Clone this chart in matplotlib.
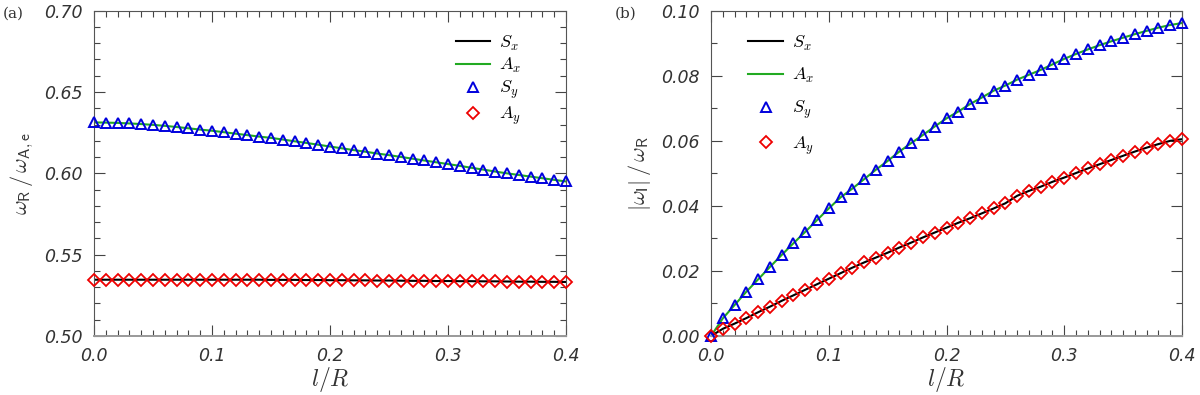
import numpy as np
import matplotlib
matplotlib.use("Agg")
import matplotlib.pyplot as plt
from matplotlib.lines import Line2D
from matplotlib.ticker import MultipleLocator, FormatStrFormatter

plt.rcParams['mathtext.fontset'] = 'cm'

# l/R sampling (41 points)
lR = np.linspace(0.0, 0.4, 41)

# panel (a): omega_R / omega_Ae
wr_kink = [0.6313, 0.6312, 0.6310, 0.6307, 0.6303, 0.6298, 0.6292, 0.6285, 0.6277, 0.6269,
           0.6262, 0.6253, 0.6244, 0.6235, 0.6226, 0.6218, 0.6208, 0.6197, 0.6187, 0.6176,
           0.6165, 0.6154, 0.6143, 0.6133, 0.6122, 0.6112, 0.6101, 0.6090, 0.6079, 0.6068,
           0.6057, 0.6046, 0.6034, 0.6023, 0.6011, 0.6000, 0.5990, 0.5980, 0.5970, 0.5960,
           0.5950]
wr_saus = [0.5346, 0.5346, 0.5346, 0.5346, 0.5346, 0.5346, 0.5346, 0.5346, 0.5346, 0.5346,
           0.5346, 0.5346, 0.5346, 0.5346, 0.5346, 0.5345, 0.5345, 0.5345, 0.5344, 0.5344,
           0.5343, 0.5343, 0.5342, 0.5342, 0.5341, 0.5341, 0.5340, 0.5339, 0.5339, 0.5338,
           0.5338, 0.5337, 0.5337, 0.5336, 0.5336, 0.5335, 0.5334, 0.5334, 0.5333, 0.5333,
           0.5332]

# panel (b): |omega_I| / omega_R
wi_kink = [0.0000, 0.0054, 0.0095, 0.0136, 0.0174, 0.0212, 0.0249, 0.0285, 0.0320, 0.0356,
           0.0392, 0.0426, 0.0453, 0.0482, 0.0511, 0.0538, 0.0567, 0.0593, 0.0618, 0.0644,
           0.0669, 0.0690, 0.0713, 0.0733, 0.0754, 0.0770, 0.0788, 0.0803, 0.0818, 0.0835,
           0.0852, 0.0867, 0.0881, 0.0894, 0.0906, 0.0917, 0.0928, 0.0938, 0.0948, 0.0956,
           0.0962]
wi_saus = [0.0000, 0.0022, 0.0038, 0.0055, 0.0073, 0.0090, 0.0108, 0.0125, 0.0142, 0.0159,
           0.0176, 0.0193, 0.0210, 0.0226, 0.0241, 0.0256, 0.0272, 0.0287, 0.0303, 0.0318,
           0.0333, 0.0348, 0.0362, 0.0377, 0.0392, 0.0408, 0.0431, 0.0446, 0.0459, 0.0474,
           0.0487, 0.0501, 0.0515, 0.0528, 0.0541, 0.0554, 0.0567, 0.0579, 0.0590, 0.0600,
           0.0605]

legend_labels = [r'$S_x$', r'$A_x$', r'$S_y$', r'$A_y$']

fig = plt.figure(figsize=(12, 3.95), dpi=100)
ax1 = fig.add_axes([0.0783, 0.1494, 0.3933, 0.8235])
ax2 = fig.add_axes([0.5925, 0.1494, 0.3925, 0.8235])

tri = dict(marker='^', ms=7.5, mfc='none', mec='#0000dd', mew=1.4)
dia = dict(marker='D', ms=6.3, mfc='none', mec='#ee0000', mew=1.3)


def draw(ax, y_line_green, y_line_black):
    ax.plot(lR, y_line_green, color='#22aa22', lw=1.5, zorder=2)
    ax.plot(lR, y_line_black, color='black', lw=1.5, zorder=2)
    ax.plot(lR, y_line_green, ls='none', clip_on=False, zorder=3, **tri)
    ax.plot(lR, y_line_black, ls='none', clip_on=False, zorder=3, **dia)
    ax.set_xlim(0, 0.4)
    ax.xaxis.set_major_locator(MultipleLocator(0.1))
    ax.xaxis.set_minor_locator(MultipleLocator(0.01))
    ax.xaxis.set_major_formatter(FormatStrFormatter('%.1f'))
    ax.tick_params(which='both', direction='in', top=True, right=True, colors='#444444')
    ax.tick_params(which='major', length=8, width=0.8, pad=8)
    ax.tick_params(which='minor', length=4, width=0.8)
    for s in ax.spines.values():
        s.set_color('#555555')
        s.set_linewidth(0.8)
    ax.spines['bottom'].set_linewidth(1.4)
    ax.spines['bottom'].set_color('#999999')
    for lab in ax.get_xticklabels() + ax.get_yticklabels():
        lab.set_fontfamily('DejaVu Sans')
        lab.set_fontstyle('italic')
        lab.set_fontsize(12.5)
        lab.set_color('#333333')
    ax.set_xlabel(r'$l/R$', fontsize=17, labelpad=0, color='#333333')


def make_legend(ax, anchor, spacing):
    handles = [Line2D([], [], color='black', lw=1.5),
               Line2D([], [], color='#22aa22', lw=1.5),
               Line2D([], [], ls='none', **tri),
               Line2D([], [], ls='none', **dia)]
    ax.legend(handles, legend_labels, loc='upper left', bbox_to_anchor=anchor, frameon=False,
              fontsize=13, handlelength=1.9, handletextpad=0.5, labelspacing=spacing)


# panel (a)
ax1.set_ylim(0.5, 0.7)
ax1.yaxis.set_major_locator(MultipleLocator(0.05))
ax1.yaxis.set_minor_locator(MultipleLocator(0.01))
ax1.yaxis.set_major_formatter(FormatStrFormatter('%.2f'))
draw(ax1, wr_kink, wr_saus)
ax1.set_ylabel(r'$\omega_{\mathsf{R}}\,/\,\omega_{\mathsf{A,e}}$', fontsize=16, labelpad=6, color='#333333')
make_legend(ax1, (0.733, 0.98), 0.2)
fig.text(0.002, 0.955, '(a)', fontsize=11, family='DejaVu Serif', color='#333333')

# panel (b)
ax2.set_ylim(0.0, 0.1)
ax2.yaxis.set_major_locator(MultipleLocator(0.02))
ax2.yaxis.set_minor_locator(MultipleLocator(0.01))
ax2.yaxis.set_major_formatter(FormatStrFormatter('%.2f'))
draw(ax2, wi_kink, wi_saus)
ax2.set_ylabel(r'$|\omega_{\mathsf{I}}|\,/\,\omega_{\mathsf{R}}$', fontsize=16, labelpad=6, color='#333333')
make_legend(ax2, (0.045, 0.98), 0.75)
fig.text(0.512, 0.955, '(b)', fontsize=11, family='DejaVu Serif', color='#333333')

fig.savefig('out.png', dpi=100)
